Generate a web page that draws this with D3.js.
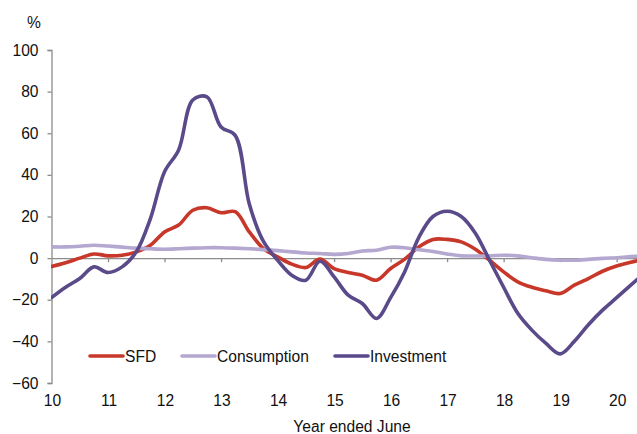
<!DOCTYPE html>
<html>
<head>
<meta charset="utf-8">
<script src="https://cdn.jsdelivr.net/npm/d3@7"></script>
<style>
  body { margin: 0; background: #fff; }
  svg { display: block; font-family: "Liberation Sans", Arial, sans-serif; }
</style>
</head>
<body>
<svg id="chart" width="637" height="434"></svg>
<script>
// quarters, year ended June (10 = Jun 2010)
let quarters = [10, 10.25, 10.5, 10.75, 11, 11.25, 11.5, 11.75, 12, 12.25, 12.5, 12.75,
  13, 13.25, 13.5, 13.75, 14, 14.25, 14.5, 14.75, 15, 15.25, 15.5, 15.75,
  16, 16.25, 16.5, 16.75, 17, 17.25, 17.5, 17.75, 18, 18.25, 18.5, 18.75,
  19, 19.25, 19.5, 19.75, 20, 20.25, 20.5];

let sfd = [-4, -2.2, 0, 2, 1.1, 1.4, 3, 6.2, 12.6, 15.9, 23, 24.2,
  21.8, 22.3, 12.6, 4.6, 0.6, -2.9, -4.5, -0.5, -5, -6.9, -8.2, -10.6,
  -5, -0.5, 5.4, 9, 9, 7.8, 4.3, -1, -6.6, -11.4, -14, -15.7,
  -17, -13, -9.8, -6.3, -3.8, -2, -0.5];

let consumption = [5.4, 5.4, 5.7, 6.2, 5.8, 5.3, 4.8, 4.5, 4.3, 4.5, 4.8, 5,
  5, 4.8, 4.5, 4.1, 3.6, 3, 2.5, 2.2, 1.8, 2.2, 3.4, 3.8,
  5.2, 5, 4, 3.2, 2, 1.1, 1, 1.1, 1.4, 1.1, 0.2, -0.6,
  -1, -1, -0.6, -0.1, 0.2, 0.7, 1.2];

let investment = [-19, -14, -9.8, -4.2, -6.9, -4.2, 3, 19, 41.5, 52, 76, 77.5,
  63, 59, 26, 8, -1, -8.2, -10.6, -1.5, -9, -17.8, -21.8, -29,
  -19, -6.5, 10, 20, 22.5, 20, 12, -1, -14, -26.5, -34.6, -41,
  -46, -40, -32, -25, -19, -13, -7];

let seriesNames = ["SFD", "Consumption", "Investment"];
let seriesColors = ["#c8382a", "#b4a7d0", "#5b4a8a"];
let yTicks = [-60, -40, -20, 0, 20, 40, 60, 80, 100];
let xTicks = [10, 11, 12, 13, 14, 15, 16, 17, 18, 19, 20];

let svg = d3.select("#chart");
let axisColor = "#8c8c8c";
let textColor = "#111111";
let fontSize = 15.6;

let x = d3.scaleLinear().domain([10, 20.36]).range([51.5, 637]);
let y = d3.scaleLinear().domain([-60, 100]).range([383, 50]);

svg.append("defs").append("clipPath").attr("id", "plotClip")
  .append("rect").attr("x", 51).attr("y", 0).attr("width", 586).attr("height", 434);

// y axis
let yAxis = svg.append("g")
  .attr("transform", "translate(" + x(10) + ",0)")
  .call(d3.axisLeft(y).tickValues(yTicks).tickSize(4).tickSizeOuter(4).tickPadding(9));
yAxis.selectAll("path, line").attr("stroke", axisColor).attr("stroke-width", 1.3);
yAxis.selectAll("text").attr("font-size", fontSize).attr("fill", textColor)
  .attr("font-family", "'Liberation Sans', Arial, sans-serif");

// x axis sits on zero
let xAxis = svg.append("g")
  .attr("transform", "translate(0," + y(0) + ")")
  .call(d3.axisBottom(x).tickValues(xTicks.slice(1)).tickSize(4).tickSizeOuter(0).tickFormat(""));
xAxis.selectAll("path, line").attr("stroke", axisColor).attr("stroke-width", 1.3);

svg.append("g").selectAll("text").data(xTicks).join("text")
  .attr("x", d => x(d) + 1)
  .attr("y", 406)
  .attr("text-anchor", "middle")
  .attr("font-size", fontSize)
  .attr("fill", textColor)
  .text(d => d);

svg.append("text")
  .attr("x", 352).attr("y", 432)
  .attr("text-anchor", "middle")
  .attr("font-size", fontSize)
  .attr("fill", textColor)
  .text("Year ended June");

svg.append("text")
  .attr("x", 34).attr("y", 28)
  .attr("text-anchor", "middle")
  .attr("font-size", fontSize)
  .attr("fill", textColor)
  .text("%");

// lines
let line = d3.line()
  .x((d, i) => x(quarters[i]))
  .y(d => y(d))
  .curve(d3.curveCatmullRom.alpha(0.5));

let allSeries = [sfd, consumption, investment];
svg.append("g").attr("clip-path", "url(#plotClip)")
  .selectAll("path").data(allSeries).join("path")
  .attr("d", d => line(d))
  .attr("fill", "none")
  .attr("stroke", (d, i) => seriesColors[i])
  .attr("stroke-width", 3.6)
  .attr("stroke-linejoin", "round")
  .attr("stroke-linecap", "round");

// legend
let legendX = [90, 182, 335];
let legendY = 356;
let legend = svg.append("g").selectAll("g").data(seriesNames).join("g")
  .attr("transform", (d, i) => "translate(" + legendX[i] + "," + legendY + ")");
legend.append("line")
  .attr("x1", 0).attr("x2", 33).attr("y1", 0).attr("y2", 0)
  .attr("stroke", (d, i) => seriesColors[i])
  .attr("stroke-width", 3.6)
  .attr("stroke-linecap", "round");
legend.append("text")
  .attr("x", 35).attr("y", 5.5)
  .attr("font-size", fontSize)
  .attr("fill", textColor)
  .text(d => d);
</script>
</body>
</html>
